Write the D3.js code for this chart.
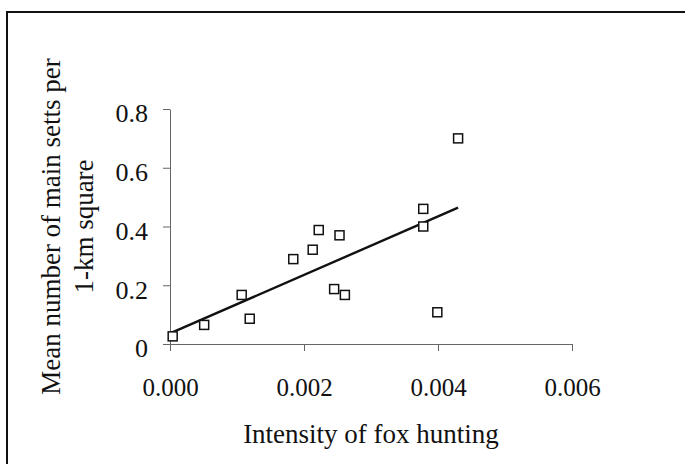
<!DOCTYPE html>
<html>
<head>
<meta charset="utf-8">
<script src="https://cdn.jsdelivr.net/npm/d3@7"></script>
<style>
  html, body { margin: 0; padding: 0; background: #fff; }
  svg { display: block; }
  text { font-family: "Liberation Serif", "Times New Roman", serif; fill: #111; }
</style>
</head>
<body>
<script>
// Hunting intensity per area and mean number of main badger setts per 1-km square
const huntingIntensity = [0.00004, 0.00051, 0.00107, 0.00119, 0.00184, 0.00213, 0.00222,
                          0.00253, 0.00245, 0.00261, 0.00378, 0.00378, 0.00399, 0.00430];
const meanSetts        = [0.026, 0.065, 0.167, 0.086, 0.289, 0.321, 0.388,
                          0.370, 0.187, 0.167, 0.460, 0.400, 0.108, 0.700];

const xTickValues = [0, 0.002, 0.004, 0.006];
const xTickLabels = ["0.000", "0.002", "0.004", "0.006"];
const yTickValues = [0, 0.2, 0.4, 0.6, 0.8];
const yTickLabels = ["0", "0.2", "0.4", "0.6", "0.8"];

const xTitle = "Intensity of fox hunting";
const yTitleLines = ["Mean number of main setts per", "1-km square"];

const W = 685, H = 464;
const svg = d3.select("body").append("svg").attr("width", W).attr("height", H);

// Outer frame: top and left rules
svg.append("path")
  .attr("d", `M7,${H} L7,12 L${W},12`)
  .attr("fill", "none").attr("stroke", "#111").attr("stroke-width", 2);

const x = d3.scaleLinear().domain([0, 0.006]).range([170, 572]);
const y = d3.scaleLinear().domain([0, 0.8]).range([344, 109]);

// Y axis
const yAxis = d3.axisLeft(y)
  .tickValues(yTickValues)
  .tickFormat((d, i) => yTickLabels[i])
  .tickSize(7).tickSizeOuter(0).tickPadding(15);
const gy = svg.append("g").attr("transform", `translate(${x(0)},0)`).call(yAxis);
gy.select(".domain").attr("stroke", "#666").attr("stroke-width", 1);
gy.selectAll(".tick line").attr("stroke", "#666");
gy.selectAll(".tick text")
  .attr("font-size", 26).attr("dy", "0.49em")
  .style("font-family", "'Liberation Serif', 'Times New Roman', serif").attr("fill", "#111");

// X axis
const xAxis = d3.axisBottom(x)
  .tickValues(xTickValues)
  .tickFormat((d, i) => xTickLabels[i])
  .tickSize(7).tickSizeOuter(0).tickPadding(0);
const gx = svg.append("g").attr("transform", `translate(0,${y(0)})`).call(xAxis);
gx.select(".domain").attr("stroke", "#666").attr("stroke-width", 1);
gx.selectAll(".tick line").attr("stroke", "#666");
gx.selectAll(".tick text")
  .attr("font-size", 25).attr("dy", 0).attr("y", 52)
  .style("font-family", "'Liberation Serif', 'Times New Roman', serif").attr("fill", "#111");

// Least-squares trend line across the observed range
const n = huntingIntensity.length;
const mx = d3.mean(huntingIntensity), my = d3.mean(meanSetts);
let sxy = 0, sxx = 0;
for (let i = 0; i < n; i++) {
  sxy += (huntingIntensity[i] - mx) * (meanSetts[i] - my);
  sxx += (huntingIntensity[i] - mx) ** 2;
}
const slope = sxy / sxx, intercept = my - slope * mx;
const xr = [0, d3.max(huntingIntensity)];
svg.append("line")
  .attr("x1", x(xr[0])).attr("y1", y(intercept + slope * xr[0]))
  .attr("x2", x(xr[1])).attr("y2", y(intercept + slope * xr[1]))
  .attr("stroke", "#111").attr("stroke-width", 2.4);

// Square markers
const points = huntingIntensity.map((v, i) => ({ x: v, y: meanSetts[i] }));
svg.append("g").selectAll("rect").data(points).join("rect")
  .attr("x", d => x(d.x) - 4.5).attr("y", d => y(d.y) - 4.5)
  .attr("width", 9).attr("height", 9)
  .attr("fill", "#fff").attr("stroke", "#111").attr("stroke-width", 1.5);

// Axis titles
svg.append("text")
  .attr("x", 371).attr("y", 443)
  .attr("text-anchor", "middle").attr("font-size", 27)
  .text(xTitle);

const yt = svg.append("g").attr("transform", `translate(0,${(y(0) + y(0.8)) / 2}) rotate(-90)`);
yt.selectAll("text").data(yTitleLines).join("text")
  .attr("x", 0).attr("y", (d, i) => i === 0 ? 60 : 93)
  .attr("text-anchor", "middle").attr("font-size", 27)
  .text(d => d);
</script>
</body>
</html>
